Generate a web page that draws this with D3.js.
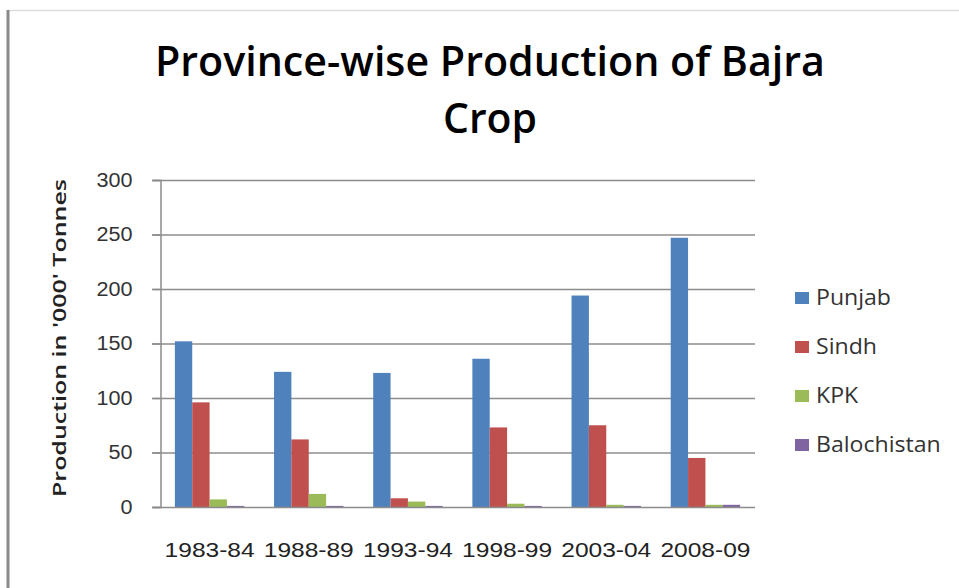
<!DOCTYPE html>
<html>
<head>
<meta charset="utf-8">
<script src="https://cdn.jsdelivr.net/npm/d3@7"></script>
<style>
  body { margin: 0; background: #fff; }
  svg { display: block; font-family: "Open Sans", "Liberation Sans", sans-serif; }
</style>
</head>
<body>
<svg id="chart"></svg>
<script>
// data
const years = ["1983-84", "1988-89", "1993-94", "1998-99", "2003-04", "2008-09"];
const provinces = ["Punjab", "Sindh", "KPK", "Balochistan"];
const punjab = [152, 124, 123, 136, 194, 247];
const sindh = [96, 62, 8, 73, 75, 45];
const kpk = [7, 12, 5, 3, 2, 2];
const balochistan = [1, 1, 1, 1, 1, 2];
const yTicks = [0, 50, 100, 150, 200, 250, 300];
const colors = ["#4f81bd", "#c0504d", "#9bbb59", "#8064a2"];

const series = [punjab, sindh, kpk, balochistan];
const rows = years.map((y, i) => ({year: y, values: series.map(s => s[i])}));

const w = 959;
const h = 588;
const svg = d3.select("#chart").attr("width", w).attr("height", h);

// frame of the screenshot
svg.append("line").attr("x1", 8).attr("x2", w).attr("y1", 10.5).attr("y2", 10.5)
   .attr("stroke", "#dcdcdc").attr("stroke-width", 1.5);
svg.append("line").attr("x1", 8).attr("x2", 8).attr("y1", 10).attr("y2", h)
   .attr("stroke", "#8a8a8a").attr("stroke-width", 3);

//scales
const x0 = d3.scaleBand().domain(years).range([160, 755]).paddingInner(0.3).paddingOuter(0.15);
const x1 = d3.scaleBand().domain(provinces).range([0, x0.bandwidth()]);
const yScale = d3.scaleLinear().domain([0, 300]).range([507, 180]);
const color = d3.scaleOrdinal().domain(provinces).range(colors);

// gridlines
svg.append("g")
   .selectAll("line")
   .data(yTicks.filter(d => d > 0))
   .enter()
   .append("line")
   .attr("x1", 152).attr("x2", 755)
   .attr("y1", d => yScale(d) + 0.5).attr("y2", d => yScale(d) + 0.5)
   .attr("stroke", "#8c8c8c").attr("stroke-width", 1.5);

// y axis
const yAxis = svg.append("g")
   .attr("transform", "translate(160.5,0)")
   .call(d3.axisLeft(yScale).tickValues(yTicks).tickSize(8).tickPadding(20));
yAxis.select(".domain").attr("stroke", "#8c8c8c").attr("stroke-width", 1.5);
yAxis.selectAll(".tick line").attr("stroke", "#8c8c8c").attr("stroke-width", 1.5);
yAxis.selectAll("text").attr("font-size", 20).attr("fill", "#333")
   .attr("textLength", d => String(d).length * 12).attr("lengthAdjust", "spacingAndGlyphs");

// bars
svg.append("g")
   .selectAll("g")
   .data(rows)
   .enter()
   .append("g")
   .attr("transform", d => `translate(${x0(d.year)},0)`)
   .selectAll("rect")
   .data(d => d.values.map((v, i) => ({key: provinces[i], value: v})))
   .enter()
   .append("rect")
   .attr("x", d => x1(d.key))
   .attr("y", d => yScale(d.value))
   .attr("width", x1.bandwidth())
   .attr("height", d => yScale(0) - yScale(d.value))
   .attr("fill", d => color(d.key));

// x axis
const xAxis = svg.append("g")
   .attr("transform", "translate(0,507.5)")
   .call(d3.axisBottom(x0).tickSize(0).tickPadding(35).tickSizeOuter(0));
xAxis.select(".domain").attr("d", "M152,0H755").attr("stroke", "#8c8c8c").attr("stroke-width", 1.5);
xAxis.selectAll("text").attr("font-size", 21).attr("fill", "#222")
   .attr("textLength", 90).attr("lengthAdjust", "spacingAndGlyphs");

// title
const title = svg.append("g").attr("font-weight", 600).attr("fill", "#000").attr("text-anchor", "middle");
title.append("text").attr("x", 490).attr("y", 76).attr("font-size", 42)
   .attr("textLength", 670).attr("lengthAdjust", "spacingAndGlyphs")
   .text("Province-wise Production of Bajra");
title.append("text").attr("x", 490).attr("y", 133).attr("font-size", 42)
   .attr("textLength", 94).attr("lengthAdjust", "spacingAndGlyphs")
   .text("Crop");

// y axis title
svg.append("text")
   .attr("transform", "translate(66,338) rotate(-90)")
   .attr("text-anchor", "middle")
   .attr("font-size", 18).attr("font-weight", 600).attr("fill", "#222")
   .attr("textLength", 318).attr("lengthAdjust", "spacingAndGlyphs")
   .text("Production in '000' Tonnes");

// legend
const legend = svg.append("g")
   .selectAll("g")
   .data(provinces)
   .enter()
   .append("g")
   .attr("transform", (d, i) => `translate(795,${298 + i * 49})`);
legend.append("rect").attr("x", 0).attr("y", -6).attr("width", 14).attr("height", 12)
   .attr("fill", d => color(d));
legend.append("text").attr("transform", "translate(21,0) scale(1.1,1)").attr("dy", "0.35em")
   .attr("font-size", 21).attr("fill", "#333")
   .text(d => d);
</script>
</body>
</html>
